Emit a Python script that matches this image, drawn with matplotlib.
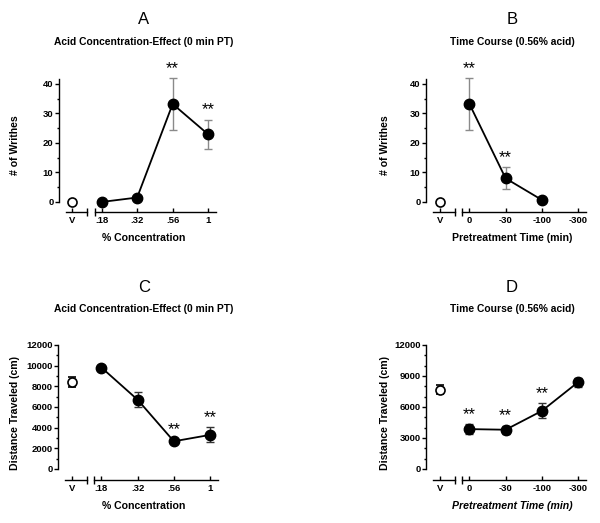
import numpy as np
import matplotlib
matplotlib.use("Agg")
import matplotlib.pyplot as plt
from matplotlib.ticker import FixedLocator

plt.rcParams["font.family"] = ["Liberation Sans", "DejaVu Sans"]

# ── data ────────────────────────────────────────────
conc_labels = [".18", ".32", ".56", "1"]
time_labels = ["0", "-30", "-100", "-300"]

# A: writhes vs concentration
a_veh, a_veh_err = 0.0, 0.0
a_mean = [0.0, 1.5, 33.2, 22.9]
a_err = [0.0, 0.4, 8.8, 5.0]
a_sig = [2, 3]

# B: writhes vs pretreatment time
b_veh, b_veh_err = 0.0, 0.0
b_mean = [33.2, 8.0, 0.7]
b_err = [8.8, 3.7, 0.3]
b_sig = [0, 1]

# C: distance vs concentration
c_veh, c_veh_err = 8450, 500
c_mean = [9820, 6700, 2680, 3300]
c_err = [200, 720, 180, 720]
c_sig = [2, 3]

# D: distance vs pretreatment time
d_veh, d_veh_err = 7680, 450
d_mean = [3860, 3800, 5620, 8400]
d_err = [500, 380, 720, 420]
d_sig = [0, 1, 2]

W, H = 600, 523
fig = plt.figure(figsize=(6.0, 5.23), dpi=100)

V_POS = -0.82
XLIM = (-1.2, 3.22)


def panel(rect, letter, title, xlabel, ylabel, xticklabels, veh, veh_err,
          mean, err, sig, ylim, ytop, major, minor, ecolor, ylab_x, xl_italic=False):
    l, b, w, h = rect
    ax = fig.add_axes([l / W, 1 - b / H, w / W, h / H])
    x = np.arange(len(mean))
    ax.errorbar(x, mean, yerr=err, fmt="none", ecolor=ecolor, elinewidth=1,
                capsize=3, capthick=1, clip_on=False, zorder=2)
    ax.plot(x, mean, "o-", color="black", lw=1.3, ms=7.5, clip_on=False, zorder=3)
    ax.errorbar([V_POS], [veh], yerr=[veh_err] if veh_err else None, fmt="o",
                mfc="white", mec="black", mew=1.2, ms=6.5, ecolor="black",
                elinewidth=1, capsize=3, capthick=1, clip_on=False, zorder=3)
    for i in sig:
        ax.annotate("**", (x[i], mean[i] + err[i]), xytext=(0, 7),
                    textcoords="offset points", ha="center", va="center",
                    fontsize=12)

    ax.set_xlim(*XLIM)
    ax.set_ylim(*ylim)
    for s in ["top", "right", "bottom"]:
        ax.spines[s].set_visible(False)
    ax.spines["left"].set_bounds(0, ytop)
    ax.spines["left"].set_linewidth(1.0)
    ax.yaxis.set_major_locator(FixedLocator(np.arange(0, ytop + 1e-9, major)))
    ax.yaxis.set_minor_locator(FixedLocator(np.arange(0, ytop + 1e-9, minor)))
    ax.tick_params(axis="y", which="major", direction="out", length=3, width=1,
                   labelsize=6.8, pad=1)
    ax.tick_params(axis="y", which="minor", direction="out", length=1.5, width=1)
    for t in ax.get_yticklabels():
        t.set_fontweight("bold")

    ax.set_xticks([V_POS] + list(range(len(xticklabels))))
    ax.set_xticklabels(["V"] + xticklabels, fontsize=6.8, fontweight="bold")
    ax.tick_params(axis="x", which="both", direction="in", length=3, width=1, pad=3)
    ax.xaxis.set_minor_locator(plt.NullLocator())

    # broken x axis segments
    tr = ax.get_xaxis_transform()
    for x0, x1 in [(-1.0, -0.4), (-0.2, XLIM[1])]:
        ax.plot([x0, x1], [0, 0], color="black", lw=1.0, transform=tr, clip_on=False)
    ax.plot([-0.4, -0.2], [0, 0], ls="none", marker="|", ms=6, mew=1.0,
            color="black", transform=tr, clip_on=False)

    cx = l + w / 2 + 6
    fig.text(cx / W, 1 - (b - h - 58) / H, letter, ha="center", va="center", fontsize=12)
    fig.text(cx / W, 1 - (b - h - 36) / H, title, ha="center", va="center",
             fontsize=7.4, fontweight="bold")
    fig.text(cx / W, 1 - (b + 26) / H, xlabel, ha="center", va="center",
             fontsize=7.6, fontweight="bold", style="italic" if xl_italic else "normal")
    fig.text(ylab_x / W, 1 - (b - h / 2) / H, ylabel, rotation=90, ha="center",
             va="center", fontsize=7.6, fontweight="bold")
    return ax


panel((59, 212, 157, 134), "A", "Acid Concentration-Effect (0 min PT)", "% Concentration",
      "# of Writhes", conc_labels, a_veh, a_veh_err, a_mean, a_err, a_sig,
      (-3.4, 42), 41.5, 10, 5, "#8a8a8a", 15)
panel((426, 212, 160, 134), "B", "Time Course (0.56% acid)", "Pretreatment Time (min)",
      "# of Writhes", time_labels, b_veh, b_veh_err, b_mean, b_err, b_sig,
      (-3.4, 42), 41.5, 10, 5, "#8a8a8a", 385)
panel((58, 480, 160, 135), "C", "Acid Concentration-Effect (0 min PT)", "% Concentration",
      "Distance Traveled (cm)", conc_labels, c_veh, c_veh_err, c_mean, c_err, c_sig,
      (-1065, 12000), 12000, 2000, 1000, "#333333", 15)
panel((426, 480, 160, 135), "D", "Time Course (0.56% acid)", "Pretreatment Time (min)",
      "Distance Traveled (cm)", time_labels, d_veh, d_veh_err, d_mean, d_err, d_sig,
      (-1065, 12000), 12000, 3000, 1000, "#333333", 385, xl_italic=True)

fig.savefig("out.png", dpi=100)
